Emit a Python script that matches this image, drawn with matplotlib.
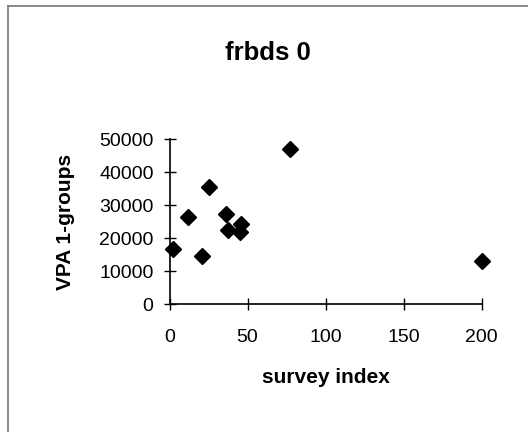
import matplotlib
matplotlib.use("Agg")
import matplotlib.pyplot as plt
from matplotlib.lines import Line2D

survey_index = [2, 12, 21, 25, 36, 37.7, 45.8, 45.2, 77.2, 200.5]
vpa_1groups = [16700, 26500, 14700, 35400, 27300, 22500, 24300, 22000, 47000, 13100]
x_ticks = [0, 50, 100, 150, 200]
y_ticks = [0, 10000, 20000, 30000, 40000, 50000]

plt.rcParams['font.family'] = ['Liberation Sans', 'DejaVu Sans']

fig = plt.figure(figsize=(5.28, 4.32), dpi=100)
ax = fig.add_axes([169.5/528, 1-304.3/432, (481.7-169.5)/528, (304.3-139)/432])

ax.plot(survey_index, vpa_1groups, linestyle='none', marker='D', markersize=8.5,
        color='black', clip_on=False)

ax.set_xlim(0, 200)
ax.set_ylim(0, 50000)
ax.set_xticks(x_ticks)
ax.set_yticks(y_ticks)
ax.tick_params(direction='inout', length=9, width=1, labelsize=14)
ax.tick_params(axis='x', pad=13)
ax.tick_params(axis='y', pad=7)
for s in ['top', 'right']:
    ax.spines[s].set_visible(False)
for s in ['left', 'bottom']:
    ax.spines[s].set_linewidth(1.2)

ax.set_xlabel('survey index', fontsize=15, fontweight='bold', labelpad=16)
ax.set_ylabel('VPA 1-groups', fontsize=15, fontweight='bold', labelpad=17)

fig.text(268/528, 1-53/432, 'frbds 0', fontsize=18.5, fontweight='bold',
         ha='center', va='center')

# figure border (left and top)
fig.add_artist(Line2D([8/528, 1.0], [1-6/432, 1-6/432], transform=fig.transFigure,
                      color='#777777', linewidth=1.2))
fig.add_artist(Line2D([8/528, 8/528], [0, 1-6/432], transform=fig.transFigure,
                      color='#777777', linewidth=1.2))

fig.savefig('out.png', dpi=100)
